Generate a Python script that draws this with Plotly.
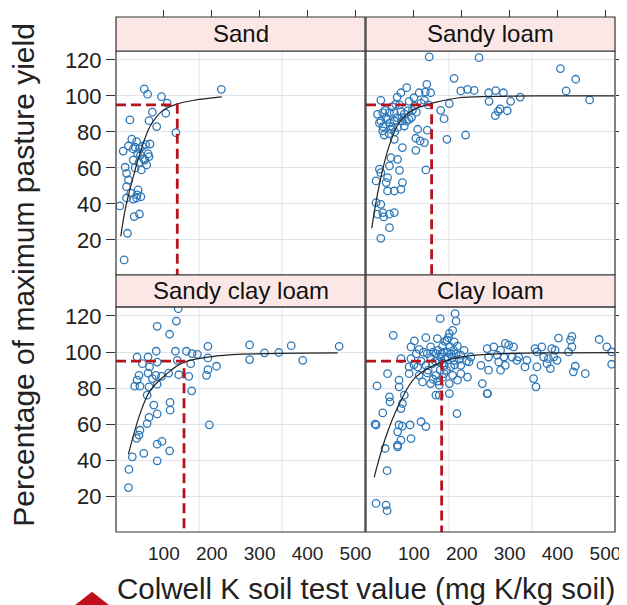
import plotly.graph_objects as go

# ---------------- data ----------------
panel_names = ["Sand", "Sandy loam", "Sandy clay loam", "Clay loam"]

sand_x = [59, 66, 95, 220, 107, 104, 76, 29, 69, 85, 125, 71, 33, 43, 15, 26, 36, 40, 49, 51,
          67, 69, 36, 60, 64, 19, 22, 53, 26, 22, 46, 31, 43, 22, 36, 8, 49, 38, 24, 17,
          45, 55, 62, 40, 48, 58, 44, 52]
sand_y = [103.9, 101, 99.6, 103.7, 96, 90.4, 91, 86.7, 86.3, 83, 79.6, 73.3, 76, 74.6, 69.4, 72.2, 70.6, 71.5, 70.6, 67.2,
          67.8, 66.3, 64.4, 64.4, 61.7, 60.4, 57, 58.9, 53.3, 49.6, 47.8, 46, 43.3, 43.3, 42.7, 38.9, 34.4, 33, 23.7, 8.9,
          68, 72, 73, 60, 63, 65, 45, 44]

sandy_loam_x = [132, 236, 184, 85, 73, 65, 127, 111, 124, 135, 31, 62, 122, 101, 174, 198, 212, 226, 24, 35,
                49, 59, 73, 87, 97, 156, 31, 45, 59, 76, 90, 163, 35, 52, 66, 80, 108, 128, 38, 59,
                76, 104, 113, 122, 169, 208, 52, 104, 66, 49, 28, 31, 70, 125, 45, 21, 42, 76, 59, 73,
                45, 21, 31, 35, 24, 59, 49, 37, 49, 31,
                406, 438, 418, 467, 256, 271, 287, 257, 302, 322, 280, 276, 295, 270,
                40, 55, 70, 80, 65, 50, 42, 75, 85, 95, 60, 48, 90, 100, 115, 130, 28, 35, 55, 105]
sandy_loam_y = [121.7, 121.3, 109.8, 104.6, 101.8, 99.4, 106.5, 101.8, 102.2, 101.8, 97.6, 95.4, 97.6, 94.4, 95.8, 102.8, 103.7, 103.1, 89.8, 90.7,
                90.7, 90.7, 91.3, 91.7, 92, 92, 86.1, 87, 86.1, 86.1, 87, 87.4, 80.6, 81.5, 82.4, 83.3, 81.5, 81, 78.3, 75.9,
                71.3, 76.5, 75, 74.1, 75.9, 78.3, 65.7, 69.8, 64.8, 61.1, 59.3, 57.4, 58.7, 58.9, 54.6, 52.8, 51.9, 51.9, 47.2, 48.1,
                47.2, 40.7, 39.8, 35.2, 34.3, 35.2, 34.3, 32.8, 26.8, 20.9,
                115.2, 109.3, 102.8, 97.8, 101.8, 103, 101.8, 97, 97, 99.4, 92.8, 91.5, 91.8, 89.1,
                92, 94, 95, 90, 88, 85, 88, 88, 86, 88, 80, 79, 97, 99, 96, 95, 85, 83, 83, 91]

sandy_clay_loam_x = [130, 126, 86, 112, 192, 279, 366, 466, 44, 67, 84, 124, 147, 159, 170, 192, 279, 310, 340, 390,
                     55, 86, 128, 156, 210, 48, 67, 83, 110, 131, 152, 192, 189, 44, 39, 50, 69, 86, 65, 158,
                     79, 113, 113, 86, 69, 65, 195, 50, 48, 43, 86, 96, 112, 58, 34, 86, 27, 26, 76, 95, 70]
sandy_clay_loam_y = [124, 117.2, 114.3, 109.9, 103.2, 104, 103.6, 103.2, 97.3, 97.3, 100.5, 100.5, 100.5, 99.2, 98.8, 96.8, 95.9, 99.6, 99.8, 95.5,
                     93.6, 94.5, 95.5, 93.6, 92.2, 87.2, 88.4, 87.2, 88.4, 87.5, 86.6, 90.3, 87.2, 84.5, 81.2, 81.2, 80.8, 82.3, 76.2, 78.6,
                     70.7, 72.2, 67.9, 65.8, 63.9, 60.5, 59.8, 56.8, 54.1, 52.3, 49.1, 50.6, 45.4, 44, 42.1, 39.9, 35.1, 25.1, 85.4, 86.6, 91.8]

clay_loam_x = [186, 188, 155, 57, 101, 125, 149, 174, 181, 169, 184, 94, 111, 135, 160, 191, 73, 94, 128, 146,
               156, 170, 184, 198, 219, 90, 108, 125, 139, 153, 163, 177, 198, 215, 45, 90, 111, 128, 146, 163,
               181, 198, 212, 240, 243, 254, 69, 118, 135, 153, 174, 191, 23, 69, 80, 146, 153, 174, 49, 50,
               76, 73, 35, 190, 19, 21, 69, 76, 92, 115, 125, 66, 73, 66, 66, 94, 40, 44, 21, 42, 44,
               402, 430, 427, 487, 503, 513, 513, 253, 267, 281, 291, 298, 308, 353, 367, 388, 395, 430, 423, 256,
               274, 288, 305, 319, 336, 357, 371, 381, 392, 399, 277, 291, 315, 332, 357, 378, 385, 437, 433, 458,
               256, 281, 350, 355, 253,
               140, 150, 158, 162, 165, 170, 175, 178, 183, 165, 172, 160, 155, 168, 180, 188, 195, 205, 210, 185,
               145, 135, 120, 115, 100, 105, 130, 140, 150, 160]
clay_loam_y = [121.3, 117.2, 118.5, 109.3, 106.2, 108, 107.5, 110.3, 112, 106.6, 105.7, 102.9, 101.5, 102.9, 103.3, 103.3, 96.4, 96.4, 99.2, 99.2,
               97.3, 97.3, 95.5, 98.3, 97.3, 91.8, 91.8, 92.7, 93.6, 94.6, 92.7, 91.8, 92.7, 94.6, 88.1, 88.1, 87.2, 88.5, 87.2, 88.1,
               87.2, 88.1, 86.2, 92.7, 82.6, 77.1, 84.5, 83.5, 82.6, 81.7, 82.6, 84.5, 81.3, 80.8, 76.2, 76.2, 76.2, 77.1, 75.3, 72.5,
               71.6, 68.8, 66.4, 66, 60.2, 59.7, 59.7, 59.1, 59.7, 61.5, 58.8, 55.9, 51.3, 48.5, 47.6, 52.2, 46.7, 34.4, 16.3, 15.4, 12.3,
               107.8, 108.7, 106.6, 107, 102.9, 100.1, 93.3, 102, 102.9, 101.1, 104.8, 103.9, 102.9, 102, 102.9, 102, 101.1, 102.9, 100.1, 97.3,
               98.3, 97.3, 97.3, 97.3, 95.5, 100.1, 97.3, 96.4, 97.3, 95.5, 94.6, 92.7, 95.5, 91.8, 91.8, 93.6, 90.9, 92.2, 89.1, 88.1,
               90, 90, 85.4, 80.8, 77.1,
               100, 101, 99, 100, 96, 100, 103, 99, 101, 106, 108, 94, 90, 90, 97, 99, 96, 101, 95, 93,
               95, 97, 100, 95, 93, 99, 90, 85, 84, 86]

# fitted response curves
sand_curve_x = [10, 20, 36, 50, 71, 98, 127, 160, 221]
sand_curve_y = [22, 38, 55, 68, 83, 92, 95.5, 97.5, 99.5]
sandy_loam_curve_x = [12, 27, 48, 69, 96, 138, 194, 260, 350, 450, 518]
sandy_loam_curve_y = [26.5, 49.6, 72, 85, 92, 96, 99, 99.7, 100, 100, 100]
sandy_clay_loam_curve_x = [26, 50, 71, 105, 140, 210, 314, 463]
sandy_clay_loam_curve_y = [43.6, 65.7, 78.6, 87.8, 94.2, 97.9, 99.2, 99.6]
clay_loam_curve_x = [17, 41, 69, 103, 158, 215, 300, 400, 518]
clay_loam_curve_y = [30.7, 52.8, 71, 86, 94.5, 97.9, 99.3, 99.6, 99.7]

# critical soil test values at 95 % of maximum yield
critical_k = [128, 137, 142, 158]
critical_yield = 95

x_ticks = [100, 200, 300, 400, 500]
y_ticks = [20, 40, 60, 80, 100, 120]

# ---------------- style ----------------
FONT = "Liberation Sans, Arial, Helvetica, sans-serif"
X_RANGE = [0, 520]
Y_RANGE = [0.5, 125]
BLUE = "#2f78b8"
RED = "#b5141e"
GRID = "#dfe4ec"
STRIP = "#fbe8e6"

scatter_x = [sand_x, sandy_loam_x, sandy_clay_loam_x, clay_loam_x]
scatter_y = [sand_y, sandy_loam_y, sandy_clay_loam_y, clay_loam_y]
curve_x = [sand_curve_x, sandy_loam_curve_x, sandy_clay_loam_curve_x, clay_loam_curve_x]
curve_y = [sand_curve_y, sandy_loam_curve_y, sandy_clay_loam_curve_y, clay_loam_curve_y]

x_dom = [[0, 0.499], [0.501, 1], [0, 0.499], [0.501, 1]]
top_dom = [0.499, 0.934]
bot_dom = [0, 0.437]
y_dom = [top_dom, top_dom, bot_dom, bot_dom]

fig = go.Figure()
shapes = []
annotations = []

for i in range(4):
    n = i + 1
    xa = "x" if n == 1 else f"x{n}"
    ya = "y" if n == 1 else f"y{n}"
    for g in [X_RANGE[1] / 3, 2 * X_RANGE[1] / 3]:
        shapes.append(dict(type="line", xref=xa, yref=f"{ya} domain", x0=g, x1=g, y0=0, y1=1,
                           line=dict(color=GRID, width=1), layer="below"))
    fig.add_trace(go.Scatter(x=scatter_x[i], y=scatter_y[i], mode="markers", xaxis=xa, yaxis=ya,
                             marker=dict(symbol="circle-open", size=7.5, color=BLUE, line=dict(width=1.3, color=BLUE)),
                             showlegend=False, cliponaxis=True))
    fig.add_trace(go.Scatter(x=curve_x[i], y=curve_y[i], mode="lines", xaxis=xa, yaxis=ya,
                             line=dict(color="#222222", width=1.2, shape="spline"), showlegend=False))
    ck = critical_k[i]
    fig.add_trace(go.Scatter(x=[X_RANGE[0], ck, ck], y=[critical_yield, critical_yield, Y_RANGE[0]],
                             mode="lines", xaxis=xa, yaxis=ya,
                             line=dict(color=RED, width=2.8, dash="10px,5px"), showlegend=False))
    shapes.append(dict(type="rect", xref=f"{xa} domain", yref=f"{ya} domain", x0=0, x1=1, y0=0, y1=1,
                       line=dict(color="#333333", width=1.2), layer="above"))

    is_top = i < 2
    is_left = i % 2 == 0
    xaxis = dict(domain=x_dom[i], range=X_RANGE, showgrid=False, zeroline=False, showline=False,
                 automargin=False, tickvals=x_ticks, tickfont=dict(family=FONT, size=19, color="#222222"))
    if is_top:
        xaxis.update(anchor="free", position=1.0, side="top", ticks="outside", ticklen=7,
                     tickcolor="#333333", showticklabels=False)
    else:
        xaxis.update(anchor=ya, side="bottom", ticks="outside", ticklen=4,
                     tickcolor="rgba(0,0,0,0)", showticklabels=True)
    yaxis = dict(domain=y_dom[i], range=Y_RANGE, showgrid=True, gridcolor=GRID, gridwidth=1,
                 zeroline=False, showline=False, tickvals=y_ticks, anchor=xa, automargin=False,
                 ticks="outside", ticklen=9, tickcolor="#333333",
                 tickfont=dict(family=FONT, size=22, color="#222222"))
    if is_left:
        yaxis.update(side="left", showticklabels=True)
    else:
        yaxis.update(side="right", showticklabels=False)
    fig.update_layout({("xaxis" if n == 1 else f"xaxis{n}"): xaxis,
                       ("yaxis" if n == 1 else f"yaxis{n}"): yaxis})

    sy0 = top_dom[1] if is_top else bot_dom[1]
    sy1 = 1.0 if is_top else top_dom[0]
    shapes.append(dict(type="rect", xref="paper", yref="paper", x0=x_dom[i][0], x1=x_dom[i][1],
                       y0=sy0, y1=sy1, fillcolor=STRIP, line=dict(color="#333333", width=1.2), layer="above"))
    annotations.append(dict(text=panel_names[i], xref="paper", yref="paper",
                            x=(x_dom[i][0] + x_dom[i][1]) / 2, y=(sy0 + sy1) / 2,
                            showarrow=False, xanchor="center", yanchor="middle",
                            font=dict(family=FONT, size=24, color="#111111")))

annotations.append(dict(text="Percentage of maximum pasture yield", xref="paper", yref="paper",
                        x=-0.186, y=0.5, textangle=-90, showarrow=False, xanchor="center", yanchor="middle",
                        font=dict(family=FONT, size=30, color="#222222")))
annotations.append(dict(text="Colwell K soil test value (mg K/kg soil)", xref="paper", yref="paper",
                        x=0.5, y=-0.110, showarrow=False, xanchor="center", yanchor="middle",
                        font=dict(family=FONT, size=29.5, color="#222222")))

shapes.append(dict(type="path", xref="paper", yref="paper",
                   path="M -0.106,-0.16 L -0.048,-0.116 L 0.010,-0.16 Z",
                   fillcolor="#c0101c", line=dict(width=0), layer="above"))

# page body has an 8px margin: offset the figure so the plot sits where the reference has it
fig.update_layout(width=619, height=597, margin=dict(l=108, r=12, t=9, b=73),
                  paper_bgcolor="white", plot_bgcolor="white", shapes=shapes, annotations=annotations,
                  font=dict(family=FONT))

fig.write_html("out.html")
